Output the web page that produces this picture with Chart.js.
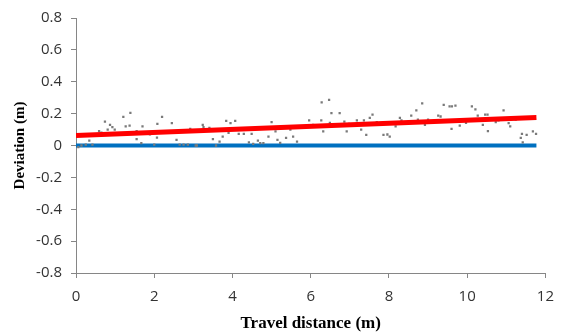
<!DOCTYPE html>
<html>
<head>
<meta charset="utf-8">
<script src="https://cdn.jsdelivr.net/npm/chart.js@4"></script>
<style>
  html, body { margin: 0; padding: 0; background: #fff; }
  #wrap { width: 564px; height: 334px; }
</style>
</head>
<body>
<div id="wrap"><canvas id="chart" width="564" height="334"></canvas></div>
<script>
// measured deviation samples
const distX = [0.06, 0.14, 0.25, 0.34, 0.42, 0.47, 0.59, 0.65, 0.74, 0.81, 0.87, 0.93, 0.99, 1.21, 1.27, 1.37, 1.39,
  1.55, 1.55, 1.67, 1.70, 1.89, 2.00, 2.07, 2.08, 2.20, 2.45, 2.57, 2.65, 2.75, 2.86, 2.92, 3.06, 3.09, 3.24, 3.26,
  3.41, 3.50, 3.58, 3.67, 3.75, 3.84, 3.90, 3.95, 4.07, 4.16, 4.29, 4.42, 4.49, 4.53, 4.65, 4.71, 4.79, 4.92, 5.00,
  5.10, 5.15, 5.22, 5.37, 5.48, 5.55, 5.65, 5.73, 5.79, 5.96, 6.06, 6.16, 6.22, 6.27, 6.28, 6.32, 6.47, 6.49, 6.53,
  6.74, 6.86, 6.92, 6.98, 7.18, 7.29, 7.36, 7.42, 7.51, 7.58, 7.69, 7.86, 7.96, 8.02, 8.17, 8.28, 8.32, 8.45, 8.51,
  8.57, 8.70, 8.74, 8.85, 8.92, 9.00, 9.13, 9.26, 9.32, 9.40, 9.50, 9.55, 9.61, 9.60, 9.70, 9.81, 9.97, 10.12, 10.21,
  10.27, 10.40, 10.46, 10.52, 10.53, 10.73, 10.80, 10.93, 11.06, 11.10, 11.24, 11.37, 11.40, 11.42, 11.52, 11.68, 11.76];
const devY = [-0.01, 0.0, 0.005, 0.03, 0.005, 0.07, 0.09, 0.08, 0.15, 0.10, 0.13, 0.115, 0.10, 0.18, 0.12, 0.125, 0.205,
  0.09, 0.04, 0.015, 0.12, 0.07, 0.005, 0.05, 0.135, 0.18, 0.14, 0.035, 0.005, 0.005, 0.005, 0.105, 0.0, 0.0, 0.13, 0.115,
  0.11, 0.04, 0.0, 0.025, 0.055, 0.155, 0.08, 0.14, 0.155, 0.073, 0.073, 0.02, 0.073, 0.01, 0.03, 0.015, 0.015, 0.056, 0.146,
  0.088, 0.035, 0.017, 0.048, 0.10, 0.056, 0.025, 0.12, 0.12, 0.157, 0.13, 0.12, 0.12, 0.157, 0.27, 0.088, 0.287, 0.142, 0.203,
  0.203, 0.15, 0.088, 0.136, 0.157, 0.10, 0.157, 0.067, 0.174, 0.194, 0.146, 0.067, 0.069, 0.056, 0.12, 0.174, 0.157, 0.146, 0.152,
  0.188, 0.22, 0.163, 0.265, 0.13, 0.163, 0.152, 0.188, 0.182, 0.255, 0.15, 0.245, 0.245, 0.105, 0.25, 0.125, 0.142, 0.245, 0.226,
  0.188, 0.13, 0.193, 0.194, 0.09, 0.146, 0.157, 0.22, 0.14, 0.12, 0.163, 0.048, 0.073, 0.02, 0.067, 0.088, 0.073];

// linear trend and reference line
const trendX = [0, 11.77];
const trendY = [0.062, 0.176];
const refX = [0, 11.77];
const refY = [0, 0];

const xTicks = [0, 2, 4, 6, 8, 10, 12];
const yTicks = [-0.8, -0.6, -0.4, -0.2, 0, 0.2, 0.4, 0.6, 0.8];

function pts(xs, ys) {
  return xs.map((x, i) => ({ x: x, y: ys[i] }));
}

const axisColor = '#868686';

new Chart(document.getElementById('chart'), {
  type: 'scatter',
  data: {
    datasets: [
      {
        label: 'Reference',
        data: pts(refX, refY),
        showLine: true,
        borderColor: '#0070C0',
        borderWidth: 4,
        pointRadius: 0,
        order: 2
      },
      {
        label: 'Samples',
        data: pts(distX, devY),
        pointStyle: 'rect',
        pointRadius: 1.6,
        backgroundColor: '#7a7a7a',
        borderWidth: 0,
        order: 1
      },
      {
        label: 'Trend',
        data: pts(trendX, trendY),
        showLine: true,
        borderColor: '#ff0000',
        borderWidth: 5,
        pointRadius: 0,
        order: 0
      }
    ]
  },
  options: {
    responsive: false,
    animation: false,
    layout: { padding: { left: 11, top: 18, right: 17, bottom: 0 } },
    plugins: { legend: { display: false }, tooltip: { enabled: false } },
    scales: {
      x: {
        type: 'linear',
        min: 0,
        max: 12,
        afterBuildTicks: s => { s.ticks = xTicks.map(v => ({ value: v })); },
        afterFit: s => { s.height = 61; },
        border: { color: axisColor, width: 1 },
        grid: { drawOnChartArea: false, drawTicks: true, tickLength: 5, color: axisColor },
        ticks: { color: '#333', font: { family: 'Open Sans', size: 15 }, padding: 10, maxRotation: 0 },
        title: {
          display: true,
          text: 'Travel distance (m)',
          color: '#000',
          font: { family: 'Liberation Serif', size: 17, weight: 'bold' },
          padding: { top: 0, bottom: 0 }
        }
      },
      y: {
        type: 'linear',
        min: -0.8,
        max: 0.8,
        afterBuildTicks: s => { s.ticks = yTicks.map(v => ({ value: v })); },
        afterFit: s => { s.width = 65; },
        border: { color: axisColor, width: 1 },
        grid: { drawOnChartArea: false, drawTicks: true, tickLength: 5, color: axisColor },
        ticks: {
          color: '#333',
          font: { family: 'Open Sans', size: 15 },
          padding: 9,
          callback: v => (Math.abs(v) < 1e-9 ? '0' : v.toFixed(1))
        },
        title: {
          display: true,
          text: 'Deviation (m)',
          color: '#000',
          font: { family: 'Liberation Serif', size: 15, weight: 'bold' },
          padding: { top: 0, bottom: 0 }
        }
      }
    }
  }
});
</script>
</body>
</html>
